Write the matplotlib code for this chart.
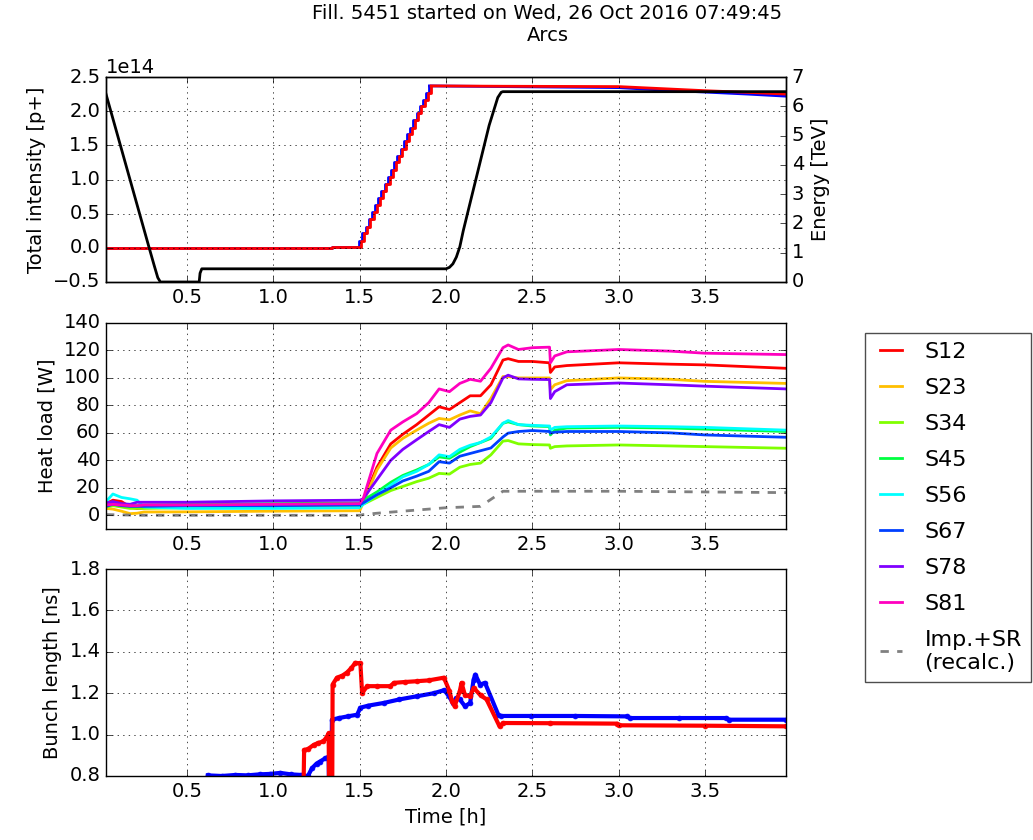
import colorsys
import matplotlib
matplotlib.use('Agg')
import matplotlib.pyplot as plt
import numpy as np

plt.style.use('classic')
plt.rcParams['font.size'] = 14
plt.rcParams['figure.facecolor'] = 'white'
plt.rcParams['savefig.facecolor'] = 'white'

titulo = 'Fill. 5451 started on Wed, 26 Oct 2016 07:49:45\nArcs'

# --- energia (TeV) ---
t_energia = [0.03, 0.10, 0.20, 0.28, 0.31, 0.33, 0.345, 0.57, 0.575, 0.585,
             2.00, 2.02, 2.04, 2.06, 2.08, 2.10, 2.15, 2.20, 2.25, 2.30,
             2.32, 2.33, 3.0, 3.5, 3.97]
energia = [6.42, 4.95, 2.85, 1.17, 0.55, 0.15, 0.0, 0.0, 0.30, 0.45,
           0.45, 0.50, 0.62, 0.85, 1.20, 1.75, 2.95, 4.15, 5.35, 6.30,
           6.48, 6.50, 6.50, 6.50, 6.50]

# --- intensidade total (unidades de 1e14 p) ---
t_inj_b1 = [0.03, 1.34, 1.497, 1.515, 1.534, 1.552, 1.571, 1.589, 1.608, 1.626,
            1.645, 1.663, 1.682, 1.700, 1.719, 1.737, 1.756, 1.774, 1.793,
            1.811, 1.830, 1.848, 1.867, 1.885, 1.904]
inj_b1 = [0.0, 0.005, 0.10, 0.21, 0.31, 0.42, 0.52, 0.62, 0.73, 0.83,
          0.94, 1.04, 1.14, 1.25, 1.35, 1.45, 1.56, 1.66, 1.76,
          1.87, 1.97, 2.07, 2.17, 2.27, 2.37]
t_inj_b2 = [0.03, 1.34, 1.507, 1.525, 1.544, 1.562, 1.581, 1.599, 1.618, 1.636,
            1.655, 1.673, 1.692, 1.710, 1.729, 1.747, 1.766, 1.784, 1.803,
            1.821, 1.840, 1.858, 1.877, 1.895, 1.914]
inj_b2 = [0.0, 0.012, 0.10, 0.21, 0.31, 0.42, 0.52, 0.62, 0.73, 0.83,
          0.94, 1.04, 1.14, 1.25, 1.35, 1.45, 1.56, 1.66, 1.76,
          1.87, 1.97, 2.07, 2.17, 2.27, 2.37]
t_fis_b1 = [1.904, 2.33, 3.0, 3.25, 3.5, 3.75, 3.97]
fis_b1 = [2.37, 2.36, 2.345, 2.31, 2.28, 2.25, 2.22]
t_fis_b2 = [1.914, 2.33, 3.0, 3.25, 3.5, 3.75, 3.97]
fis_b2 = [2.37, 2.365, 2.36, 2.33, 2.30, 2.275, 2.25]

# --- carga térmica (W) ---
t_hl = [0.03, 0.07, 0.12, 0.17, 0.21, 0.25, 0.5, 1.0, 1.5, 1.52, 1.6, 1.68,
        1.75, 1.83, 1.9, 1.96, 2.02, 2.08, 2.14, 2.2, 2.26, 2.33, 2.36, 2.42,
        2.5, 2.6, 2.605, 2.63, 2.7, 3.0, 3.3, 3.5, 3.97]
setores = ['S12', 'S23', 'S34', 'S45', 'S56', 'S67', 'S78', 'S81']
hl_s12 = [8.5, 11, 10, 6, 5, 5.5, 6, 6.5, 7.5, 11, 35, 52,
          59, 66, 73, 79, 77, 82, 87, 87, 95, 113, 114, 112,
          112, 111, 104, 108, 109, 111, 110, 109.5, 107]
hl_s23 = [5, 4.5, 3, 1.2, 1.5, 2.4, 2.5, 3, 3.3, 9, 33, 49,
          56, 62, 67, 70.5, 69.5, 73, 76, 74, 85, 101, 101, 100,
          100, 100, 91.5, 95, 98, 100, 99, 97.5, 96]
hl_s34 = [6, 7, 6, 5, 5, 5, 5.5, 6, 6.5, 8, 13, 18,
          21, 24.5, 27, 30.5, 30, 35, 37, 38, 44, 54, 54.4, 52,
          51.5, 51.2, 48.8, 50, 50.5, 51.2, 50.5, 50, 48.8]
hl_s45 = [7, 9, 8, 7.5, 7, 7.5, 8, 8.5, 9, 11, 17, 24,
          29, 33, 37, 42.5, 41.5, 46, 50, 53, 56, 67, 68, 66,
          65, 64.6, 58.5, 62, 63.5, 64, 63.5, 62.7, 61]
hl_s56 = [10, 15.5, 13, 12, 11, 6, 5, 5, 5.5, 8, 15, 22,
          28, 32, 37, 44, 42.7, 48, 51, 53, 57, 67, 69, 66,
          65.5, 65, 62, 64, 64.5, 65, 64.5, 64, 62]
hl_s67 = [6.5, 8, 7, 6.5, 6.5, 6.5, 7, 7, 7.5, 9, 15, 20,
          25, 28.5, 32, 39, 38, 43, 45, 47, 49, 57, 59.8, 61,
          61.7, 61, 59.8, 60.5, 61, 61, 60, 58.5, 56.8]
hl_s78 = [9, 10, 8.5, 8, 9.5, 9.5, 9.5, 10.5, 11, 12, 26, 40,
          48, 55, 61, 66, 64, 70, 72, 73, 82, 100, 102, 99.3,
          99, 98.8, 85, 90, 95, 96.3, 95, 94, 92]
hl_s81 = [7.5, 8, 7.5, 7, 7, 7.5, 7.5, 8, 8.5, 12, 45, 62,
          68, 74, 82, 92, 90, 96, 99, 97.6, 107, 122, 124, 120.7,
          122, 122.4, 111, 116, 119, 120.7, 119.5, 118, 117]
t_imp = [0.03, 0.25, 1.5, 1.52, 1.6, 1.8, 2.0, 2.2, 2.33, 3.0, 3.5, 3.97]
hl_imp = [0.5, 0.0, 0.0, 0.5, 1.5, 3.5, 5.5, 6.5, 17.5, 17.5, 17.0, 16.5]

# --- comprimento do bunch (ns) ---
t_bl_b1 = [0.62, 0.70, 0.78, 0.85, 0.92, 0.98, 1.04, 1.10, 1.16, 1.20, 1.223,
           1.25, 1.27, 1.30, 1.32, 1.325, 1.335, 1.339, 1.38, 1.43, 1.485, 1.504,
           1.55, 1.64, 1.73, 1.83, 1.93, 1.99, 2.017, 2.04, 2.06, 2.08, 2.11,
           2.14, 2.16, 2.17, 2.197, 2.226, 2.303, 2.32, 2.49, 2.75, 3.05, 3.065,
           3.35, 3.625, 3.64, 3.97]
bl_b1 = [0.803, 0.800, 0.805, 0.803, 0.808, 0.81, 0.815, 0.808, 0.805, 0.800, 0.837,
         0.86, 0.87, 0.885, 0.894, 0.5, 0.5, 1.072, 1.08, 1.088, 1.096, 1.13,
         1.14, 1.153, 1.17, 1.185, 1.2, 1.215, 1.185, 1.153, 1.177, 1.17, 1.137,
         1.153, 1.266, 1.29, 1.242, 1.25, 1.096, 1.09, 1.09, 1.09, 1.088, 1.08,
         1.08, 1.08, 1.072, 1.072]
t_bl_b2 = [1.17, 1.178, 1.20, 1.233, 1.26, 1.29, 1.31, 1.32, 1.325, 1.340, 1.343,
           1.368, 1.40, 1.426, 1.45, 1.475, 1.504, 1.514, 1.543, 1.60, 1.678,
           1.698, 1.76, 1.833, 1.90, 1.988, 2.02, 2.035, 2.05, 2.08, 2.09, 2.11,
           2.14, 2.16, 2.20, 2.235, 2.31, 2.33, 2.6, 2.99, 3.0, 3.5, 3.97]
bl_b2 = [0.5, 0.926, 0.93, 0.95, 0.96, 0.967, 0.99, 1.007, 0.5, 0.5, 1.242,
         1.275, 1.285, 1.30, 1.32, 1.347, 1.344, 1.20, 1.234, 1.234, 1.234,
         1.25, 1.254, 1.258, 1.262, 1.275, 1.21, 1.16, 1.137, 1.21, 1.25, 1.19,
         1.185, 1.226, 1.19, 1.17, 1.04, 1.056, 1.055, 1.053, 1.045, 1.043, 1.04]

cores = [colorsys.hsv_to_rgb(i / 8., 1., 1.) for i in range(8)]

fig = plt.figure(figsize=(10.33, 8.4), dpi=100)
ax1 = fig.add_axes([0.1026, 0.6643, 0.6583, 0.2440])
ax2 = fig.add_axes([0.1026, 0.3702, 0.6583, 0.2453], sharex=ax1)
ax3 = fig.add_axes([0.1026, 0.0762, 0.6583, 0.2464], sharex=ax1)

# painel superior
ax1.plot(t_inj_b1, np.array(inj_b1) * 1e14, color='b', lw=2, drawstyle='steps-post')
ax1.plot(t_fis_b1, np.array(fis_b1) * 1e14, color='b', lw=2)
ax1.plot(t_inj_b2, np.array(inj_b2) * 1e14, color='r', lw=2, drawstyle='steps-post')
ax1.plot(t_fis_b2, np.array(fis_b2) * 1e14, color='r', lw=2)
ax1.set_ylim(-0.5e14, 2.5e14)
ax1.set_yticks(np.arange(-0.5, 2.51, 0.5) * 1e14)
ax1.set_ylabel('Total intensity [p+]')
ax1.grid(True)

ax1b = ax1.twinx()
ax1b.plot(t_energia, energia, color='k', lw=2)
ax1b.set_ylim(0, 7)
ax1b.set_yticks(range(8))
ax1b.set_ylabel('Energy [TeV]')

# painel do meio
hl = [hl_s12, hl_s23, hl_s34, hl_s45, hl_s56, hl_s67, hl_s78, hl_s81]
for nome, valores, cor in zip(setores, hl, cores):
    ax2.plot(t_hl, valores, color=cor, lw=2, label=nome)
ax2.plot(t_imp, hl_imp, '--', color='0.5', lw=2, label='Imp.+SR\n(recalc.)')
ax2.set_ylim(-10, 140)
ax2.set_yticks(range(0, 141, 20))
ax2.set_ylabel('Heat load [W]')
ax2.grid(True)

# painel inferior
ax3.plot(t_bl_b1, bl_b1, '.-', color='b', lw=3, ms=7, mec='b')
ax3.plot(t_bl_b2, bl_b2, '.-', color='r', lw=3, ms=7, mec='r')
ax3.set_ylim(0.8, 1.8)
ax3.set_yticks(np.arange(0.8, 1.81, 0.2))
ax3.set_ylabel('Bunch length [ns]')
ax3.set_xlabel('Time [h]')
ax3.grid(True)

ax1.set_xlim(0.03, 3.97)
ax1.set_xticks([0.5, 1.0, 1.5, 2.0, 2.5, 3.0, 3.5])

handles, labels = ax2.get_legend_handles_labels()
leg = fig.legend(handles, labels, loc='upper left', bbox_to_anchor=(0.837, 0.604),
                 borderaxespad=0, fontsize=16, frameon=True,
                 labelspacing=0.72, borderpad=0.4, handletextpad=0.7,
                 handlelength=1.6)
leg.get_frame().set_edgecolor('0.3')

fig.suptitle(titulo, x=0.53, y=0.995, va='top', fontsize=14)

plt.savefig('out.png', dpi=100)
plt.close()
